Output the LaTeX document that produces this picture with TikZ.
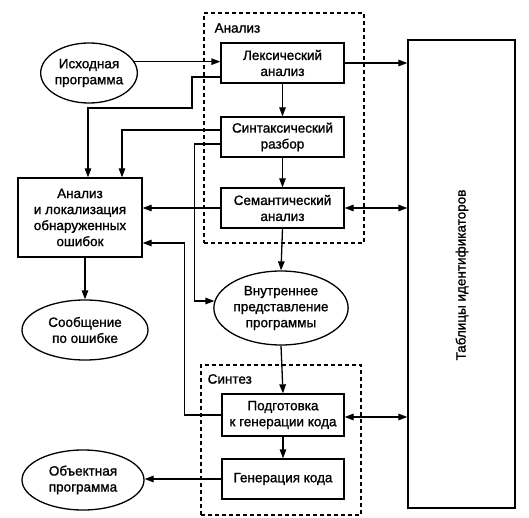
\documentclass[tikz,border=0pt]{standalone}
\usepackage{fontspec}
\setmainfont{Liberation Sans}[BoldFont=Liberation Sans, BoldFeatures={FakeBold=1.2}]
\usetikzlibrary{shapes.geometric,arrows.meta}
\begin{document}
\begin{tikzpicture}[x=1pt,y=-1pt, line width=1.3pt,
  font=\fontsize{13.5}{16}\selectfont\bfseries,
  box/.style={draw, rectangle, align=center, inner sep=0pt},
  oval/.style={draw, ellipse, align=center, inner sep=0pt},
  arr/.style={-{Triangle[length=9pt,width=6.5pt]}},
  darr/.style={{Triangle[length=9pt,width=6.5pt]}-{Triangle[length=9pt,width=6.5pt]}},
  grp/.style={draw, dash pattern=on 4pt off 3pt, line width=1.1pt, inner sep=0pt}]
\useasboundingbox (0,0) rectangle (529,518);
% groups
\node[grp, minimum width=160pt, minimum height=230pt] (anz) at (284,128) {};
\node[grp, minimum width=160pt, minimum height=150pt] (syntz) at (281,440) {};
\node[anchor=west, inner sep=2pt] (anzlbl) at (212,28) {Анализ};
\node[anchor=west, inner sep=2pt] (syntzlbl) at (205,379) {Синтез};
% boxes
\node[box, minimum width=123pt, minimum height=40pt] (lex) at (282.5,63) {Лексический\\анализ};
\node[box, minimum width=123pt, minimum height=40pt] (syn) at (282.5,137) {Синтаксический\\разбор};
\node[box, minimum width=123pt, minimum height=40pt] (sem) at (282.5,208) {Семантический\\анализ};
\node[box, minimum width=124pt, minimum height=79pt] (err) at (80,217.5) {Анализ\\и локализация\\обнаруженных\\ошибок};
\node[box, minimum width=107pt, minimum height=468pt] (tab) at (461.5,274) {};
\node[rotate=90] (tabtxt) at (462,275) {Таблицы идентификаторов};
\node[box, minimum width=122pt, minimum height=42pt] (prep) at (283,415) {Подготовка\\к генерации кода};
\node[box, minimum width=122pt, minimum height=40pt] (gen) at (283,479) {Генерация кода};
% ellipses
\node[oval, minimum width=82pt, minimum height=60pt] (src) at (89,73) {Исходная\\программа};
\node[oval, minimum width=126pt, minimum height=60pt] (msg) at (85,330) {Сообщение\\по ошибке};
\node[oval, minimum width=122pt, minimum height=74pt] (ir) at (281,308) {Внутреннее\\представление\\программы};
\node[oval, minimum width=122pt, minimum height=60pt] (obj) at (83,480) {Объектная\\программа};
% connectors
\draw[arr] (src.14.5) -- (src.14.5 -| lex.west);
\draw[arr] (lex.east) -- (lex.east -| tab.west);
\draw[arr] (lex.south) -- (syn.north);
\draw[arr] (syn.south) -- (sem.north);
\draw[darr] (sem.east) -- (sem.east -| tab.west);
\draw[darr] ([yshift=-2pt]prep.east) -- ([yshift=-2pt]prep.east -| tab.west);
\draw[arr] ([yshift=-14pt]lex.west) -| (192,108) -| ([xshift=8pt]err.north);
\draw[arr] ([yshift=7pt]syn.west) -| ([xshift=42pt]err.north);
\draw[arr] (sem.west) -- (sem.west -| err.east);
\draw[arr] ([yshift=-7pt]syn.west) -- ++(-26pt,0) |- (ir.174.3);
\draw[arr] (sem.south) -- (ir.north);
\draw[arr] (ir.south) -- (prep.north);
\draw[arr] (prep.west) -- ++(-37pt,0) |- ([yshift=-25.5pt]err.east);
\draw[arr] (prep.south) -- (gen.north);
\draw[arr] (gen.west) -- (gen.west -| obj.east);
\draw[arr] (msg.north |- err.south) -- (msg.north);
\end{tikzpicture}
\end{document}
